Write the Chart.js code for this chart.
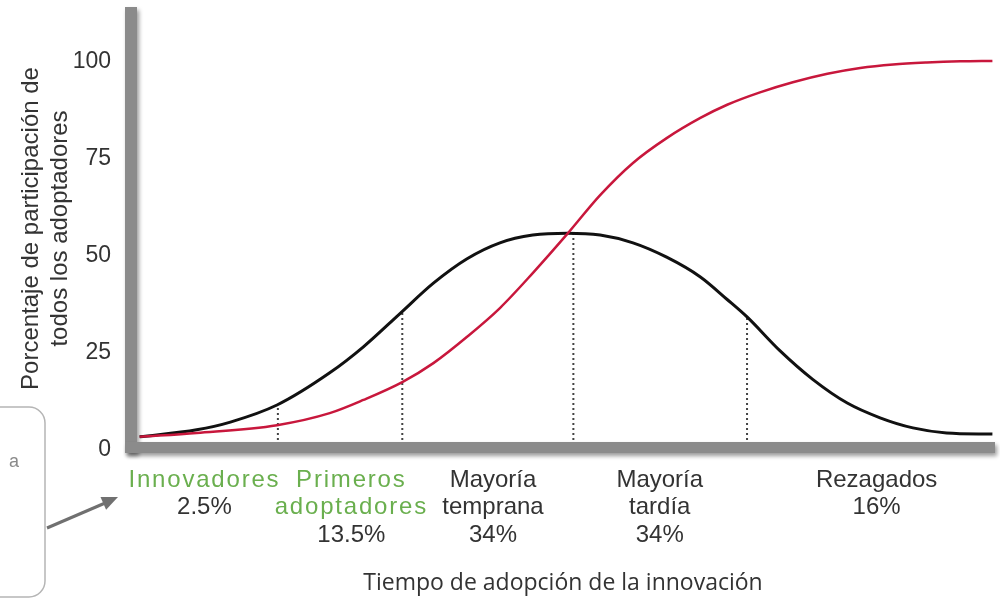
<!DOCTYPE html>
<html>
<head>
<meta charset="utf-8">
<script src="https://cdn.jsdelivr.net/npm/chart.js@4.4.1/dist/chart.umd.min.js"></script>
<style>
  html, body { margin: 0; padding: 0; background: #fff; }
  #grafico { display: block; }
</style>
</head>
<body>
<canvas id="grafico" width="1000" height="602"></canvas>
<script>
// curva de adopción (campana)
var campanaX = [1.0, 7.6, 11.5, 16.9, 23.0, 26.9, 31.1, 35.0, 38.9, 42.7, 46.5, 50.5, 54.3, 58.1, 62.0, 65.9, 69.0, 71.3, 75.1, 78.9, 82.9, 86.7, 90.5, 94.4, 99.7];
var campanaY = [3.4, 5.2, 7.2, 11.6, 19.9, 26.6, 35.1, 43.0, 49.3, 53.4, 55.4, 55.9, 55.4, 53.4, 49.7, 44.6, 38.8, 34.3, 25.6, 18.2, 12.1, 8.3, 5.7, 4.4, 4.1];

// curva acumulada (S)
var acumuladaX = [1.0, 7.6, 16.9, 23.0, 26.9, 31.4, 35.0, 38.9, 42.7, 46.5, 50.5, 54.3, 58.1, 62.0, 65.9, 69.0, 72.8, 76.6, 80.6, 84.4, 88.2, 92.1, 96.0, 99.7];
var acumuladaY = [3.4, 4.4, 6.4, 9.5, 12.9, 17.5, 22.4, 29.2, 36.6, 45.6, 55.7, 65.7, 74.0, 80.4, 85.6, 89.0, 92.2, 94.8, 97.0, 98.5, 99.4, 99.9, 100.2, 100.3];

// límites entre categorías (líneas punteadas) y su altura sobre la campana
var limites = [17.0, 31.4, 51.2, 71.3];
var limitesAltura = [11.6, 35.4, 55.9, 34.3];

// categorías de adoptadores y centro (en unidades de tiempo) de cada rótulo
var categorias = [['Innovadores'], ['Primeros', 'adoptadores'], ['Mayoría', 'temprana'], ['Mayoría', 'tardía'], ['Rezagados']];
var porcentajes = ['2.5%', '13.5%', '34%', '34%', '16%'];
var centrosCategorias = [8.5, 25.5, 41.9, 61.2, 86.3];

// marcas del eje Y
var ticksY = [0, 25, 50, 75, 100];

var verde = '#6aaf4e';
var textoOscuro = '#333333';

// barras grises de los ejes con sombra
var ejesGrises = {
  id: 'ejesGrises',
  afterDatasetsDraw: function (chart) {
    var ctx = chart.ctx;
    var area = chart.chartArea;
    var y0 = chart.scales.y.getPixelForValue(0);
    ctx.save();
    ctx.shadowColor = 'rgba(0,0,0,0.4)';
    ctx.shadowBlur = 4;
    ctx.shadowOffsetX = 2;
    ctx.shadowOffsetY = 3;
    ctx.fillStyle = '#8b8b8b';
    ctx.fillRect(area.left - 6, area.top, 12, y0 - area.top + 3);
    ctx.fillRect(area.left - 6, y0 - 8, area.right - area.left + 6, 11);
    ctx.restore();
  }
};

// textos de las categorías debajo del eje X
var etiquetasCategorias = {
  id: 'etiquetasCategorias',
  afterDraw: function (chart) {
    var ctx = chart.ctx;
    var ejeX = chart.scales.x;
    var y0 = chart.scales.y.getPixelForValue(0);
    ctx.save();
    ctx.textAlign = 'center';
    ctx.textBaseline = 'middle';
    ctx.font = '24px "Liberation Sans", Arial, sans-serif';
    categorias.forEach(function (lineas, i) {
      var cx = ejeX.getPixelForValue(centrosCategorias[i]);
      var y = y0 + 30;
      lineas.forEach(function (linea) {
        if (i < 2) {
          ctx.fillStyle = verde;
          ctx.letterSpacing = '1.8px';
        } else {
          ctx.fillStyle = textoOscuro;
          ctx.letterSpacing = '0px';
        }
        ctx.fillText(linea, cx, y);
        y += 27.5;
      });
      ctx.letterSpacing = '0px';
      ctx.fillStyle = textoOscuro;
      ctx.fillText(porcentajes[i], cx, y);
    });
    ctx.restore();
  }
};

// recorte de la nota lateral (caja + flecha)
var notaLateral = {
  id: 'notaLateral',
  afterDraw: function (chart) {
    var ctx = chart.ctx;
    ctx.save();
    ctx.strokeStyle = '#b5b5b5';
    ctx.lineWidth = 1.5;
    ctx.beginPath();
    ctx.moveTo(-5, 407);
    ctx.lineTo(29, 407);
    ctx.arcTo(45, 407, 45, 423, 16);
    ctx.lineTo(45, 581);
    ctx.arcTo(45, 597, 29, 597, 16);
    ctx.lineTo(-5, 597);
    ctx.stroke();
    ctx.fillStyle = '#8a8a8a';
    ctx.font = '18px "Liberation Sans Narrow", "Liberation Sans", sans-serif';
    ctx.textBaseline = 'middle';
    ctx.fillText('a', 9, 462);
    // flecha
    ctx.strokeStyle = '#707070';
    ctx.fillStyle = '#707070';
    ctx.lineWidth = 3;
    ctx.beginPath();
    ctx.moveTo(47, 528);
    ctx.lineTo(104, 503.5);
    ctx.stroke();
    ctx.beginPath();
    ctx.moveTo(118, 497);
    ctx.lineTo(106.1, 509.8);
    ctx.lineTo(100.5, 497.0);
    ctx.closePath();
    ctx.fill();
    ctx.restore();
  }
};

function puntos(xs, ys) {
  return xs.map(function (x, i) { return { x: x, y: ys[i] }; });
}

var conjuntos = [
  {
    label: 'Acumulado',
    data: puntos(acumuladaX, acumuladaY),
    borderColor: '#c8173c',
    borderWidth: 2.5,
    pointRadius: 0,
    cubicInterpolationMode: 'monotone',
  },
  {
    label: 'Adoptadores',
    data: puntos(campanaX, campanaY),
    borderColor: '#111111',
    borderWidth: 3,
    pointRadius: 0,
    cubicInterpolationMode: 'monotone',
  },
];
limites.forEach(function (x, i) {
  conjuntos.push({
    label: 'límite ' + (i + 1),
    data: [{ x: x, y: 0 }, { x: x, y: limitesAltura[i] }],
    borderColor: '#444444',
    borderWidth: 2,
    borderDash: [2, 3],
    pointRadius: 0,
  });
});

var ctx = document.getElementById('grafico').getContext('2d');
var grafico = new Chart(ctx, {
  type: 'line',
  data: { datasets: conjuntos },
  options: {
    responsive: false,
    animation: false,
    devicePixelRatio: 1,
    layout: { padding: { top: 7, right: 5, left: 0, bottom: 0 } },
    plugins: {
      legend: { display: false },
      tooltip: { enabled: false },
    },
    scales: {
      x: {
        type: 'linear',
        min: 0,
        max: 100,
        grid: { display: false, drawTicks: false },
        border: { display: false },
        ticks: { display: false },
        title: {
          display: true,
          text: 'Tiempo de adopción de la innovación',
          color: textoOscuro,
          font: { family: '"Open Sans", sans-serif', size: 23 },
          padding: { top: 0, bottom: 5 },
        },
        afterFit: function (scale) {
          scale.height = 152;
          scale.paddingLeft = 0;
          scale.paddingRight = 0;
        },
      },
      y: {
        min: 0,
        max: 114.2,
        grid: { display: false, drawTicks: false },
        border: { display: false },
        afterBuildTicks: function (scale) {
          scale.ticks = ticksY.map(function (v) { return { value: v }; });
        },
        ticks: {
          color: textoOscuro,
          padding: 20,
          font: { family: '"Liberation Sans", Arial, sans-serif', size: 23 },
        },
        title: {
          display: true,
          text: ['Porcentaje de participación de', 'todos los adoptadores'],
          color: textoOscuro,
          font: { family: '"Liberation Sans", Arial, sans-serif', size: 24, lineHeight: 1.21 },
          padding: { top: 17, bottom: 0 },
        },
        afterFit: function (scale) {
          scale.width = 131;
          scale.paddingTop = 0;
          scale.paddingBottom = 0;
        },
      },
    },
  },
  plugins: [ejesGrises, etiquetasCategorias, notaLateral],
});
</script>
</body>
</html>
